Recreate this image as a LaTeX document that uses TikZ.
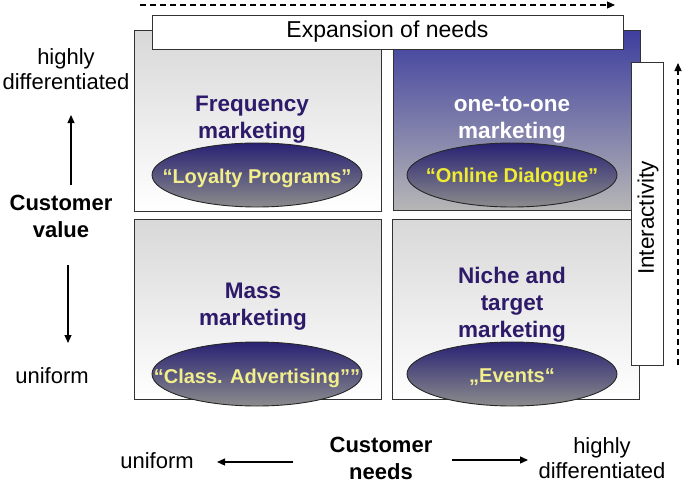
\documentclass[tikz,border=0pt]{standalone}
\usepackage{fontspec}
\setmainfont{Liberation Sans}
\usetikzlibrary{shapes.geometric,arrows.meta}
\definecolor{boxtxt}{RGB}{45,27,105}
\definecolor{edge}{RGB}{50,50,50}
\definecolor{greytop}{RGB}{216,216,216}
\definecolor{bluetop}{RGB}{62,62,158}
\definecolor{bluebot}{RGB}{182,182,182}
\definecolor{elltop}{RGB}{40,34,115}
\definecolor{ellbot}{RGB}{140,140,140}
\definecolor{paleyel}{RGB}{242,238,140}
\definecolor{brightyel}{RGB}{240,236,50}
\tikzset{
  quad/.style={draw=edge, line width=0.9pt, rectangle, inner sep=0pt,
    minimum width=247pt, minimum height=180pt},
  greyquad/.style={quad, top color=greytop, bottom color=white},
  bluequad/.style={quad, top color=bluetop, bottom color=bluebot},
  oval/.style={ellipse, draw=black!85, line width=0.9pt, inner sep=0pt,
    minimum width=210pt, minimum height=64pt, top color=elltop, bottom color=ellbot},
  whitebox/.style={draw=edge, line width=0.9pt, fill=white, inner sep=0pt},
  qtitle/.style={font=\bfseries\fontsize{22.5}{27}\selectfont, text=boxtxt, align=center, inner sep=0pt},
  ovaltxt/.style={font=\bfseries\fontsize{20}{24}\selectfont, anchor=base, inner sep=0pt},
  axislbl/.style={font=\fontsize{22}{25}\selectfont, align=center, inner sep=0pt},
  axisbold/.style={font=\bfseries\fontsize{22}{27}\selectfont, align=center, inner sep=0pt},
  axisarrow/.style={line width=1.2pt, -{Triangle[length=8pt,width=7pt]}},
  dasharrow/.style={line width=1.2pt, dash pattern=on 6pt off 4pt, -{Triangle[length=8pt,width=7pt]}}
}
\begin{document}
\begin{tikzpicture}[x=1pt,y=-1pt]
\useasboundingbox (0,0) rectangle (685,490);

% quadrants
\node[greyquad, minimum height=181pt] (tl) at (257.5,120.5) {};
\node[bluequad] (tr) at (516.5,120) {};
\node[greyquad] (bl) at (257.5,309) {};
\node[greyquad] (br) at (515.5,309) {};

% overlay boxes
\node[whitebox, minimum width=471pt, minimum height=34pt,
      font=\fontsize{23}{26}\selectfont] (exp) at (387.5,32) {Expansion of needs};
\node[whitebox, minimum width=32pt, minimum height=303pt] (inter) at (647,213.5) {};
\node[rotate=90, font=\fontsize{22.5}{26}\selectfont, inner sep=0pt] (intertxt) at (648,218) {Interactivity};

% quadrant titles
\node[qtitle] (freq) at (252,120) {Frequency\\marketing};
\node[qtitle, text=white] (one) at (512,120) {one-to-one\\marketing};
\node[qtitle] (mass) at (253,307) {Mass\\marketing};
\node[qtitle] (niche) at (512,305) {Niche and\\target\\marketing};

% ovals
\node[oval] (o1) at (257,175) {};
\node[oval] (o2) at (512,175) {};
\node[oval] (o3) at (257,374) {};
\node[oval] (o4) at (512,374) {};
\node[ovaltxt, text=paleyel] (o1t) at (257,183) {“Loyalty Programs”};
\node[ovaltxt, text=brightyel] (o2t) at (512,182) {“Online Dialogue”};
\node[ovaltxt, text=paleyel] (o3t) at (257,383) {“Class. Advertising”"};
\node[ovaltxt, text=paleyel] (o4t) at (512,382) {„Events“};

% dashed arrows
\coordinate (topS) at (140,5);
\coordinate (topE) at (615,5);
\draw[dasharrow] (topS) -- (topE);
\coordinate (rightS) at (678,365);
\coordinate (rightE) at (678,63);
\draw[dasharrow] (rightS) -- (rightE);

% left axis
\node[axislbl] (lhigh) at (66,69) {highly\\differentiated};
\node[axisbold] (cval) at (61,216) {Customer\\value};
\node[axislbl, anchor=base] (lunif) at (52,383) {uniform};
\coordinate (upS) at (71,185);
\coordinate (upE) at (71,115);
\coordinate (dnS) at (68,265);
\coordinate (dnE) at (68,343);
\draw[axisarrow] (upS) -- (upE);
\draw[axisarrow] (dnS) -- (dnE);

% bottom axis
\node[axislbl, anchor=base] (bunif) at (157,468) {uniform};
\node[axisbold] (cneeds) at (381,458) {Customer\\needs};
\node[axislbl] (rhigh) at (602,458) {highly\\differentiated};
\coordinate (lfS) at (293,462);
\coordinate (lfE) at (217,462);
\coordinate (rtS) at (452,460);
\coordinate (rtE) at (528,460);
\draw[axisarrow] (lfS) -- (lfE);
\draw[axisarrow] (rtS) -- (rtE);
\end{tikzpicture}
\end{document}
